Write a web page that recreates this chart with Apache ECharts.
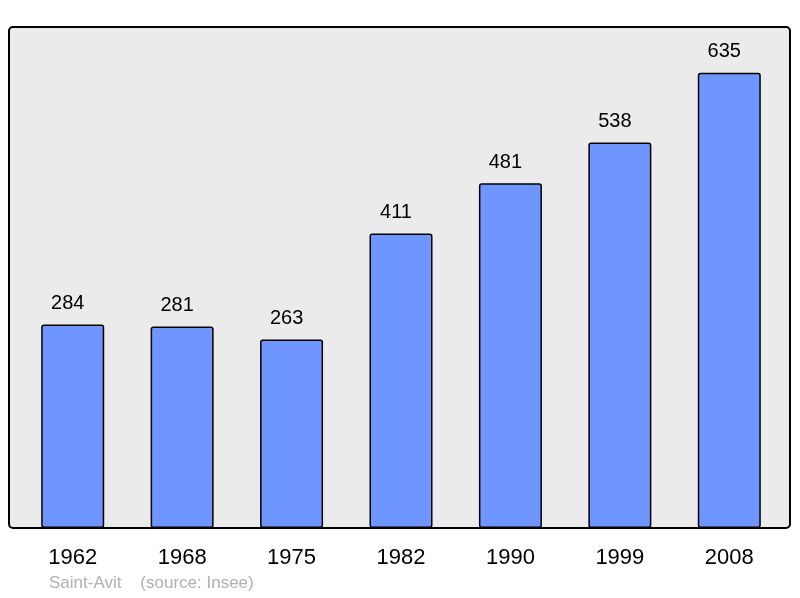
<!DOCTYPE html>
<html><head><meta charset="utf-8">
<script src="https://cdn.jsdelivr.net/npm/echarts@6/dist/echarts.min.js"></script>
<style>html,body{margin:0;padding:0;background:#fff}#c{width:800px;height:598px}</style>
</head><body><div id="c"></div>
<script>
var categories = ['1962','1968','1975','1982','1990','1999','2008'];
var population = [284, 281, 263, 411, 481, 538, 635];
var footnote = 'Saint-Avit    (source: Insee)';

var chart = echarts.init(document.getElementById('c'), null, {renderer:'canvas'});
chart.setOption({
  animation: false,
  backgroundColor: '#ffffff',
  textStyle: {fontFamily: 'Liberation Sans, Arial, sans-serif'},
  grid: {left: 18, right: 16, top: 27, bottom: 70},
  graphic: [
    {type:'rect', z: -1, shape:{x:9, y:27, width:781, height:501, r:4},
     style:{fill:'#ebebeb', stroke:'#000', lineWidth:2}},
    {type:'text', left: 49, top: 575, style:{text: footnote, fill:'#b0b0b0', font:'17px "Liberation Sans", Arial, sans-serif'}}
  ],
  xAxis: {
    type:'category', data: categories,
    axisLine:{show:false}, axisTick:{show:false},
    axisLabel:{color:'#000', fontSize:22, margin:19, fontFamily:'Liberation Sans, Arial, sans-serif'}
  },
  yAxis: {
    type:'value', min:0, max:699, show:false,
    splitLine:{show:false}
  },
  series: [{
    type:'bar', data: population, barWidth: 63, z: 2,
    itemStyle:{color:'#6f96ff', borderColor:'#000', borderWidth:1.5, borderRadius:2},
    label:{show:true, position:'top', distance:11, offset:[-5,0], color:'#000', fontSize:20, fontFamily:'Liberation Sans, Arial, sans-serif'}
  }]
});
</script></body></html>
